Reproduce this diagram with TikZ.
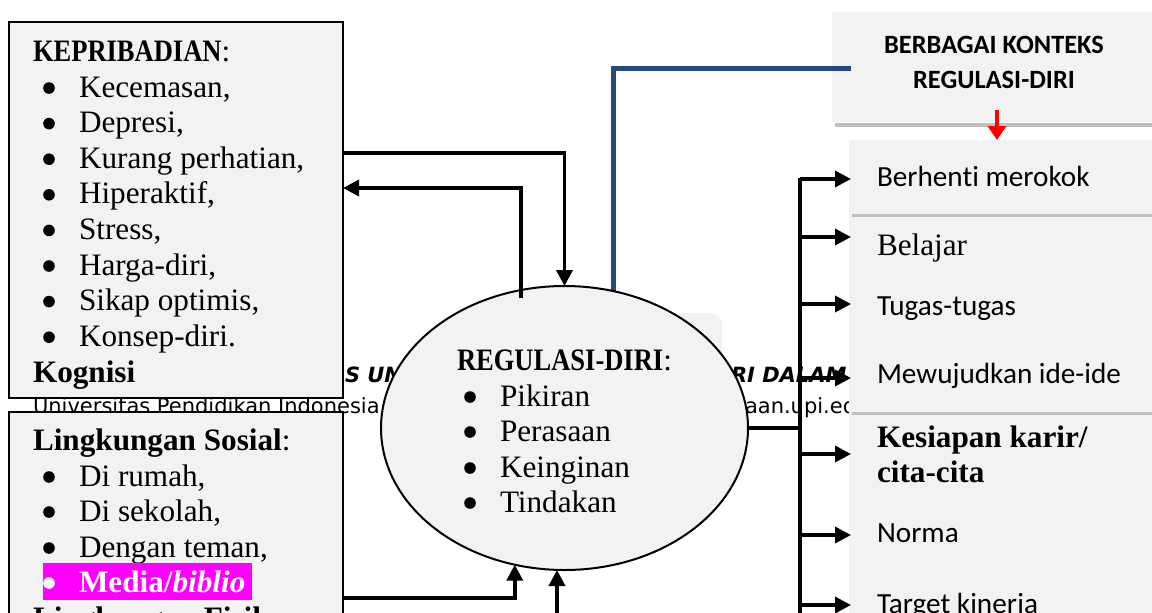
\documentclass[tikz,border=0pt]{standalone}
\usepackage{fontspec}
\setmainfont{Liberation Serif}
\newfontfamily\calfont[Ligatures=NoCommon]{Carlito}
\newfontfamily\capsfont[FakeStretch=0.85]{Liberation Serif}
\newfontfamily\hdrfont{DejaVu Sans}
\usetikzlibrary{shapes.geometric,arrows.meta}
\definecolor{boxgray}{HTML}{F2F2F2}
\definecolor{sepgray}{HTML}{BFBFBF}
\definecolor{lineblue}{HTML}{24497F}
\definecolor{hilite}{HTML}{FF00FF}
\definecolor{arrred}{HTML}{FF0000}
\begin{document}
\begin{tikzpicture}[x=0.5pt,y=-0.5pt,
  every node/.style={inner sep=0pt,outer sep=0pt},
  sertext/.style={anchor=base west,font=\fontsize{15.6}{18}\selectfont},
  caltext/.style={anchor=base west,font=\calfont\fontsize{14.6}{17}\selectfont},
  hdrtext/.style={anchor=base west,font=\hdrfont\fontsize{10.5}{12}\selectfont},
  pane/.style={fill=boxgray,draw=black,line width=1pt},
  flatpane/.style={fill=boxgray,anchor=north west},
  sepline/.style={draw=sepgray,line width=1.5pt},
  conn/.style={line width=1.8pt},
  arr/.style={conn,-{Triangle[length=8pt,width=8pt]}},
  blueline/.style={draw=lineblue,line width=2.5pt},
  redarr/.style={draw=arrred,line width=2.2pt,-{Triangle[length=7pt,width=9pt]},arrred}
]
\def\bulr{2.9pt}
\fill[white] (0,0) rectangle (1152,612);
\clip (0,0) rectangle (1152,612);

% background page text fragments
\node[hdrtext,font=\hdrfont\bfseries\itshape\fontsize{10.5}{12}\selectfont] (h1) at (345,382) {S UN};
\node[hdrtext,font=\hdrfont\bfseries\itshape\fontsize{10.5}{12}\selectfont] (h2) at (731,382) {RI DALAM};
\node[hdrtext] (h3) at (33,413) {Universitas Pendidikan Indonesia};
\node[hdrtext] (h4) at (745,413) {aan.upi.edu};
\fill[boxgray,rounded corners=6pt] (600,313) rectangle (722,368);

% right side panels
\node[flatpane,minimum width=170pt,minimum height=55pt] (ctx) at (832,12) {};
\draw[sepgray,line width=2pt] (835,124.5) -- (1152,124.5);
\node[flatpane,minimum width=160pt,minimum height=250pt] (lst) at (849,140) {};
\draw[sepline] (852,215) -- (1152,215);
\draw[sepline] (852,413) -- (1152,413);

\node[anchor=base,font=\calfont\bfseries\fontsize{13.2}{16}\selectfont] (ctxa) at (994,53) {BERBAGAI KONTEKS};
\node[anchor=base,font=\calfont\bfseries\fontsize{13.2}{16}\selectfont] (ctxb) at (994,88) {REGULASI-DIRI};

% blue connector (under the ellipse)
\coordinate (bs) at (613,330);
\coordinate (be) at (851,68);
\draw[blueline] (bs) |- (be);

% central ellipse
\node[ellipse,pane,minimum width=183.5pt,minimum height=142pt] (reg) at (564.5,428) {};
\node[sertext] (rt) at (457,370) {{\capsfont\bfseries REGULASI-DIRI}:};
\node[sertext] (r1) at (500,406) {Pikiran};
\node[sertext] (r2) at (500,441) {Perasaan};
\node[sertext] (r3) at (500,477) {Keinginan};
\node[sertext] (r4) at (500,512) {Tindakan};
\foreach \yb in {406,441,477,512}{\fill (470,{\yb-9}) circle (\bulr);}

% left panels
\node[pane,anchor=north west,minimum width=167pt,minimum height=188pt] (kep) at (9,22) {};
\node[pane,anchor=north west,minimum width=167pt,minimum height=120pt] (ling) at (9,412) {};

\node[sertext] (kt) at (33,61) {{\capsfont\bfseries KEPRIBADIAN}:};
\node[sertext] (k1) at (79,97) {Kecemasan,};
\node[sertext] (k2) at (79,132.6) {Depresi,};
\node[sertext] (k3) at (79,168.2) {Kurang perhatian,};
\node[sertext] (k4) at (79,203.8) {Hiperaktif,};
\node[sertext] (k5) at (79,239.4) {Stress,};
\node[sertext] (k6) at (79,275) {Harga-diri,};
\node[sertext] (k7) at (79,310.6) {Sikap optimis,};
\node[sertext] (k8) at (79,346.2) {Konsep-diri.};
\foreach \yb in {97,132.6,168.2,203.8,239.4,275,310.6,346.2}{\fill (49,{\yb-9}) circle (\bulr);}
\node[sertext] (kg) at (33,382) {\bfseries Kognisi};

\node[sertext] (lt) at (33,450) {{\bfseries Lingkungan Sosial}:};
\node[sertext] (l1) at (79,486) {Di rumah,};
\node[sertext] (l2) at (79,521) {Di sekolah,};
\node[sertext] (l3) at (79,557) {Dengan teman,};
\foreach \yb in {486,521,557}{\fill (49,{\yb-9}) circle (\bulr);}
\node[fill=hilite,anchor=north west,minimum width=104.5pt,minimum height=18.5pt] (hl) at (43,563) {};
\fill[white] (49,583) circle (\bulr);
\node[sertext,text=white] (l4) at (79,592) {\bfseries Media/\textit{biblio}};
\node[sertext] (lf) at (33,628) {{\bfseries Lingkungan Fisik}:};

% right list texts
\node[caltext] (c1) at (877,186) {Berhenti merokok};
\node[sertext] (c2) at (877,255) {Belajar};
\node[caltext] (c3) at (877,315) {Tugas-tugas};
\node[caltext] (c4) at (877,383) {Mewujudkan ide-ide};
\node[sertext] (c5) at (877,447) {\bfseries Kesiapan karir/};
\node[sertext] (c5b) at (877,482) {\bfseries cita-cita};
\node[caltext] (c6) at (877,542) {Norma};
\node[caltext] (c7) at (877,613) {Target kinerja};

% left connectors
\coordinate (ka) at (343,153);
\coordinate (kb) at (343,188);
\coordinate (rb) at (521,298);
\coordinate (la) at (343,598);
\coordinate (lb) at (557,625);
\draw[arr] (ka) -| (reg.north);
\draw[arr] (rb) |- (kb);
\draw[arr] (la) -| (reg.250);
\draw[arr] (lb) -- (lb |- reg.south);

% red arrow
\coordinate (rs) at (997,110);
\draw[redarr] (rs) -- (rs |- lst.north);

% right connectors
\coordinate (vt) at (800,178);
\coordinate (vb) at (800,625);
\draw[conn,line width=2pt] (vt) -- (vb);
\draw[conn] (reg.east) -- (reg.east -| vt);
\coordinate (a1) at (800,179);
\coordinate (a2) at (800,237);
\coordinate (a3) at (800,304);
\coordinate (a4) at (800,378);
\coordinate (a5) at (800,454);
\coordinate (a6) at (800,535);
\coordinate (a7) at (800,605);
\foreach \p in {a1,a2,a3,a4,a5,a6,a7}{
  \draw[arr] (\p) -- ([xshift=1pt]\p -| lst.west);
}
\end{tikzpicture}
\end{document}
